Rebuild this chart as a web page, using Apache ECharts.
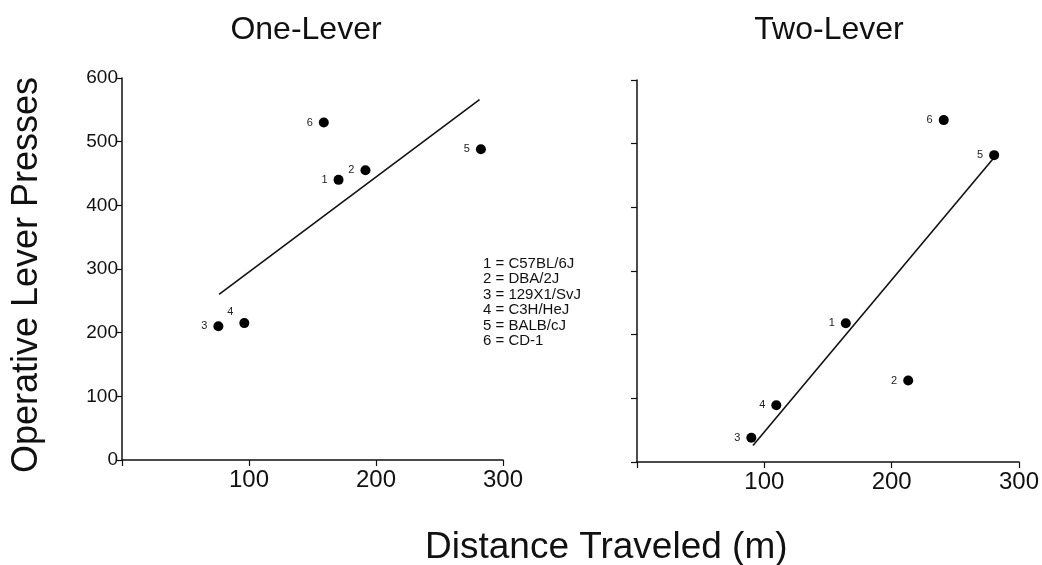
<!DOCTYPE html>
<html><head><meta charset="utf-8">
<script src="https://cdn.jsdelivr.net/npm/echarts@6/dist/echarts.min.js"></script>
<style>html,body{margin:0;padding:0;background:#fff}#c{width:1042px;height:565px}</style>
</head><body><div id="c"></div>
<script>
const panelTitles = ['One-Lever', 'Two-Lever'];
const strainIds = ['1', '2', '3', '4', '5', '6'];
const strainNames = ['C57BL/6J', 'DBA/2J', '129X1/SvJ', 'C3H/HeJ', 'BALB/cJ', 'CD-1'];
const oneLeverDistance = [170.5, 191.7, 75.9, 96.3, 282.6, 158.9];
const oneLeverPresses = [440, 455, 210, 215, 488, 530];
const twoLeverDistance = [164, 213, 89.8, 109.4, 280.5, 240.9];
const twoLeverPresses = [218, 128, 38, 89, 482, 537];
const oneLeverFit = [[76.4, 260], [281.5, 566]];
const twoLeverFit = [[91.1, 26], [280, 477]];
const xTicks = [0, 100, 200, 300];
const yTicks = [0, 100, 200, 300, 400, 500, 600];
const xLabel = 'Distance Traveled (m)';
const yLabel = 'Operative Lever Presses';

const ink = '#111111';
const font = 'Liberation Sans, Arial, sans-serif';
const labelPos = [
  ['left', 'left', 'left', 'topLeft', 'left', 'left'],
  ['left', 'left', 'left', 'left', 'left', 'left']
];

function pts(xs, ys, p) {
  return xs.map((x, i) => ({
    value: [x, ys[i]],
    label: {
      show: true, formatter: strainIds[i],
      position: labelPos[p][i] === 'topLeft' ? [-12, -12] : 'left',
      distance: 6
    }
  }));
}

const grids = [
  {left: 122, width: 381, top: 78, height: 382},
  {left: 637, width: 384, top: 80, height: 382}
];

const xAxes = grids.map((g, i) => ({
  type: 'value', gridIndex: i, min: xTicks[0], max: xTicks[xTicks.length - 1], interval: 100,
  axisLine: {show: true, onZero: false, lineStyle: {color: ink, width: 1.5}},
  axisTick: {show: true, length: 6, lineStyle: {color: ink, width: 1.2}},
  axisLabel: {show: true, color: ink, fontSize: 24, fontFamily: font, margin: 8,
    formatter: v => (v === 0 ? '' : String(v))},
  splitLine: {show: false}
}));

const yAxes = grids.map((g, i) => ({
  type: 'value', gridIndex: i, min: yTicks[0], max: yTicks[yTicks.length - 1], interval: 100,
  axisLine: {show: true, onZero: false, lineStyle: {color: ink, width: 1.5}},
  axisTick: {show: true, length: 6, lineStyle: {color: ink, width: 1.2}},
  axisLabel: {show: i === 0, color: ink, fontSize: 19, fontFamily: font, margin: 4},
  splitLine: {show: false}
}));

const scatterCommon = {
  type: 'scatter', symbol: 'circle', symbolSize: 10,
  itemStyle: {color: '#000000', opacity: 1},
  label: {color: '#222', fontSize: 11, fontFamily: font},
  emphasis: {disabled: true}, z: 3
};
const lineCommon = {
  type: 'line', symbol: 'none', lineStyle: {color: ink, width: 1.6},
  emphasis: {disabled: true}, z: 2
};

const legendText = strainIds.map((id, i) => id + ' = ' + strainNames[i]).join('\n');

const option = {
  backgroundColor: '#ffffff',
  animation: false,
  grid: grids,
  xAxis: xAxes,
  yAxis: yAxes,
  series: [
    Object.assign({}, lineCommon, {xAxisIndex: 0, yAxisIndex: 0, data: oneLeverFit}),
    Object.assign({}, scatterCommon, {xAxisIndex: 0, yAxisIndex: 0, data: pts(oneLeverDistance, oneLeverPresses, 0)}),
    Object.assign({}, lineCommon, {xAxisIndex: 1, yAxisIndex: 1, data: twoLeverFit}),
    Object.assign({}, scatterCommon, {xAxisIndex: 1, yAxisIndex: 1, data: pts(twoLeverDistance, twoLeverPresses, 1)})
  ],
  graphic: [
    {type: 'text', x: 306, y: 30, style: {text: panelTitles[0], fill: ink, font: '32px ' + font, align: 'center', verticalAlign: 'middle'}},
    {type: 'text', x: 829, y: 30, style: {text: panelTitles[1], fill: ink, font: '32px ' + font, align: 'center', verticalAlign: 'middle'}},
    {type: 'text', x: 425, y: 548, style: {text: xLabel, fill: ink, font: '37px ' + font, align: 'left', verticalAlign: 'middle'}},
    {type: 'text', x: 27, y: 275, rotation: Math.PI / 2, style: {text: yLabel, fill: ink, font: '36px ' + font, align: 'center', verticalAlign: 'middle'}},
    {type: 'text', x: 483, y: 256, style: {text: legendText, fill: ink, font: '15px ' + font, lineHeight: 15.5, align: 'left', verticalAlign: 'top'}}
  ]
};

const chart = echarts.init(document.getElementById('c'), null, {renderer: 'canvas'});
chart.setOption(option);
</script>
</body></html>
